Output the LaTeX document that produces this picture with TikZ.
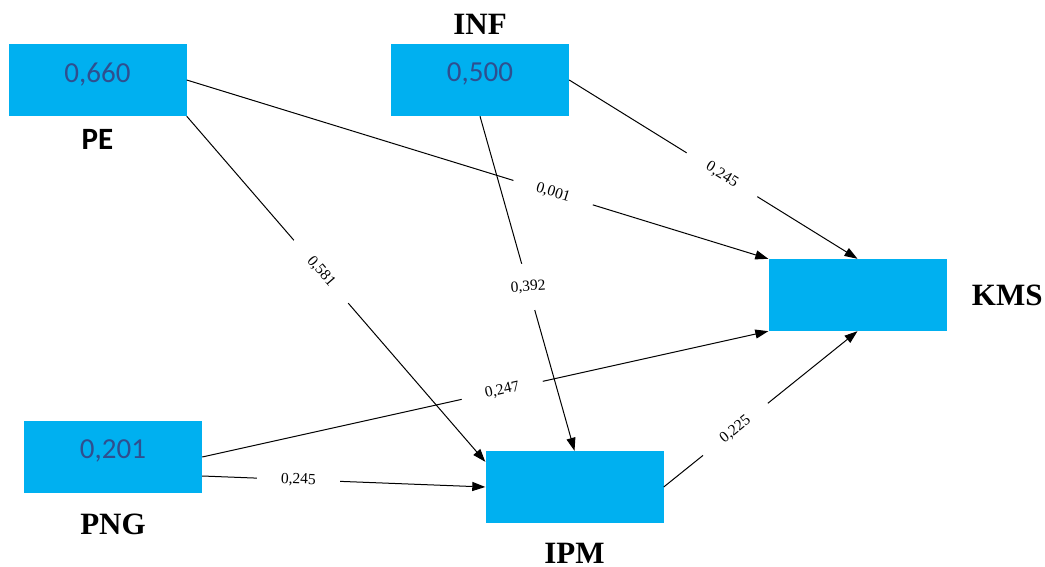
\documentclass[tikz,border=0pt]{standalone}
\usepackage{fontspec}
\setmainfont{Liberation Serif}
\newfontfamily\calibri{Carlito}
\usetikzlibrary{arrows.meta, positioning}
\definecolor{boxblue}{HTML}{00B0F0}
\definecolor{valueblue}{HTML}{2F4F8F}

\begin{document}
\begin{tikzpicture}[x=1pt, y=-1pt,
  construct/.style={rectangle, minimum width=178pt, minimum height=72pt, inner sep=0pt, fill=boxblue},
  valtext/.style={font=\calibri\fontsize{29}{30}\selectfont, text=valueblue, inner sep=0pt, anchor=base},
  varname/.style={font=\bfseries\fontsize{31}{32}\selectfont, inner sep=0pt},
  sansname/.style={font=\calibri\bfseries\fontsize{31}{32}\selectfont, inner sep=0pt},
  pathline/.style={-{Triangle[length=13pt, width=9pt]}, line width=1pt},
  coefval/.style={font=\fontsize{15.5}{16}\selectfont, fill=white, inner xsep=24pt, inner ysep=5pt}]
\useasboundingbox (0,0) rectangle (1045,567);

% construct boxes
\node[construct] (PE) at (97.5,80) {};
\node[construct] (INF) at (480,80) {};
\node[construct] (KMS) at (857.5,295) {};
\node[construct] (PNG) at (113,457) {};
\node[construct] (IPM) at (574.5,487) {};

% R-square values inside the boxes
\node[valtext] (PEval) at ([yshift=-2.5pt]PE.center) {0,660};
\node[valtext] (INFval) at ([yshift=-2pt]INF.center) {0,500};
\node[valtext] (PNGval) at ([yshift=-1pt]PNG.center) {0,201};

% construct names
\node[sansname, below=13pt of PE] (PElab) {PE};
\node[varname, above=9pt of INF] (INFlab) {INF};
\node[varname, right=25pt of KMS] (KMSlab) {KMS};
\node[varname, below=21pt of PNG] (PNGlab) {PNG};
\node[varname, below=20pt of IPM] (IPMlab) {IPM};

% path coefficients
\draw[pathline] (PE.east) -- node[coefval, sloped, pos=0.63] {0,001} (KMS.north west);
\draw[pathline] (PE.south east) -- node[coefval, sloped, pos=0.45] {0,581} ([yshift=-11pt]IPM.north west);
\draw[pathline] (INF.south) -- node[coefval, rotate=4, inner xsep=4pt, inner ysep=17pt, pos=0.51] {0,392} (IPM.north);
\draw[pathline] (INF.east) -- node[coefval, sloped, pos=0.53] {0,245} (KMS.north);
\draw[pathline] (PNG.east) -- node[coefval, sloped, pos=0.53] {0,247} (KMS.south west);
\draw[pathline] ([yshift=-19pt]PNG.east) -- node[coefval, sloped, pos=0.34] {0,245} (IPM.west);
\draw[pathline] (IPM.east) -- node[coefval, sloped, pos=0.37] {0,225} (KMS.south);
\end{tikzpicture}
\end{document}
